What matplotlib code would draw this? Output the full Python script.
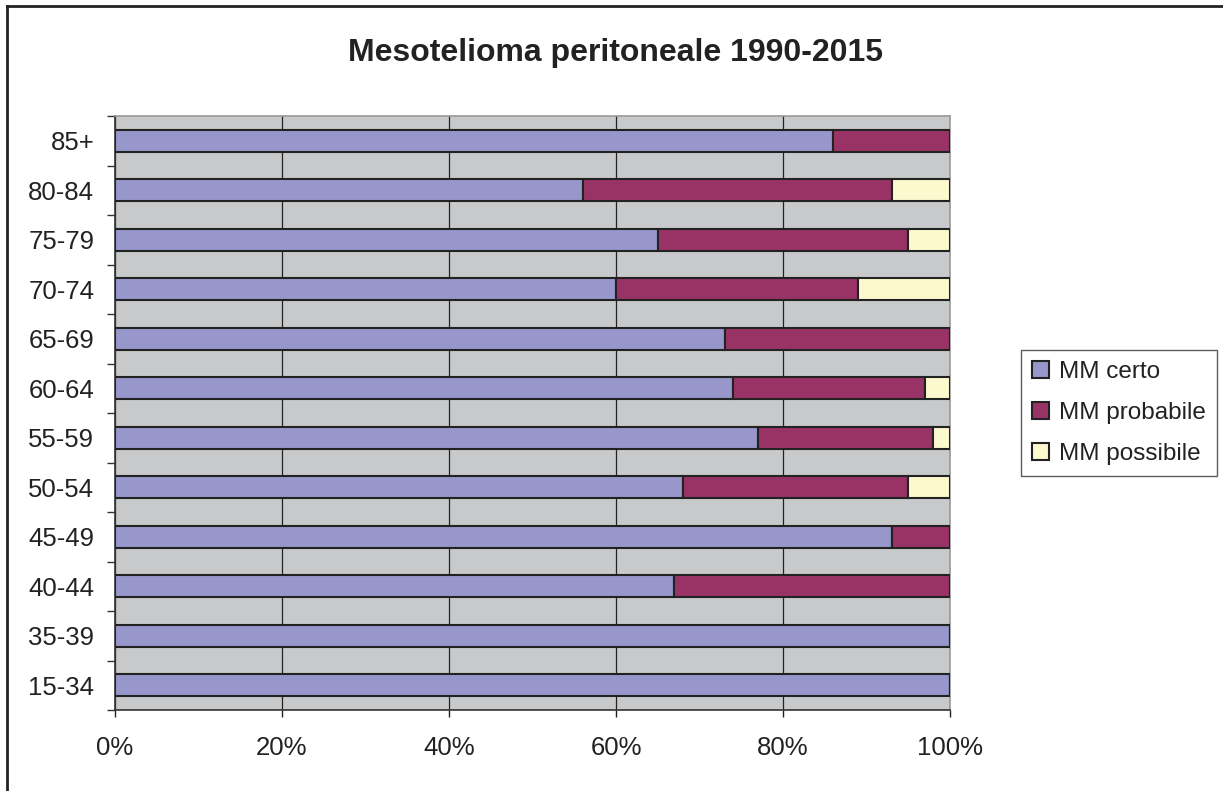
import matplotlib
matplotlib.use("Agg")
import matplotlib.pyplot as plt
from matplotlib.lines import Line2D
from matplotlib.ticker import FixedLocator, PercentFormatter
import numpy as np

plt.rcParams['font.family'] = ['Liberation Sans', 'DejaVu Sans']

# age groups, bottom to top
classi = ['15-34', '35-39', '40-44', '45-49', '50-54', '55-59',
          '60-64', '65-69', '70-74', '75-79', '80-84', '85+']
certo = [100, 100, 67, 93, 68, 77, 74, 73, 60, 65, 56, 86]
probabile = [0, 0, 33, 7, 27, 21, 23, 27, 29, 30, 37, 14]
possibile = [0, 0, 0, 0, 5, 2, 3, 0, 11, 5, 7, 0]

serie = ['MM certo', 'MM probabile', 'MM possibile']
colori = ['#9797CB', '#993366', '#FCF9CF']

fig = plt.figure(figsize=(12.23, 7.91), dpi=100)
ax = fig.add_axes([0.0940, 0.1024, 0.6828, 0.7509])
ax.set_facecolor('#C8C9CB')

y = np.arange(len(classi))
left = np.zeros(len(classi))
for vals, nome, col in zip([certo, probabile, possibile], serie, colori):
    vals = np.array(vals, dtype=float)
    ax.barh(y, vals, left=left, height=0.44, color=col, edgecolor='#222222',
            linewidth=1.5, label=nome, zorder=3)
    left += vals

ax.set_xlim(0, 100)
ax.set_ylim(-0.5, len(classi) - 0.5)
ax.set_xticks(np.arange(0, 101, 20))
ax.xaxis.set_major_formatter(PercentFormatter(decimals=0))
ax.grid(axis='x', color='#222222', linewidth=0.9, zorder=1)
ax.set_yticks(y)
ax.set_yticklabels(classi)
ax.yaxis.set_minor_locator(FixedLocator(np.arange(-0.5, len(classi), 1)))
ax.tick_params(axis='y', which='major', length=0, pad=15, labelsize=18.5, colors='#222222')
ax.tick_params(axis='y', which='minor', length=6, width=1.0, color='#333333')
ax.tick_params(axis='x', which='major', length=5, width=1.0, pad=14, labelsize=18.5,
               colors='#222222')

for s in ['left', 'bottom']:
    ax.spines[s].set_color('#333333')
    ax.spines[s].set_linewidth(1.2)
for s in ['top', 'right']:
    ax.spines[s].set_color('#999999')
    ax.spines[s].set_linewidth(1.2)

fig.text(0.5035, 0.933, 'Mesotelioma peritoneale 1990-2015', ha='center', va='center',
         fontsize=23, fontweight='bold', color='#222222')

leg = fig.legend(loc='center', bbox_to_anchor=(0.915, 0.478), fontsize=17.5,
                 frameon=True, fancybox=False, edgecolor='#333333',
                 handlelength=0.7, handleheight=0.7, handletextpad=0.4,
                 labelspacing=0.78, borderpad=0.45, borderaxespad=0)
leg.get_frame().set_linewidth(1.0)
for t in leg.get_texts():
    t.set_color('#222222')

# outer chart border (only left and top edges are visible)
fig.add_artist(Line2D([6.5 / 1223, 6.5 / 1223], [0, 1 - 6 / 791], transform=fig.transFigure,
                      color='#222222', linewidth=2))
fig.add_artist(Line2D([6.5 / 1223, 1], [1 - 6 / 791, 1 - 6 / 791], transform=fig.transFigure,
                      color='#222222', linewidth=2))

fig.savefig('out.png', dpi=100, facecolor='white')
